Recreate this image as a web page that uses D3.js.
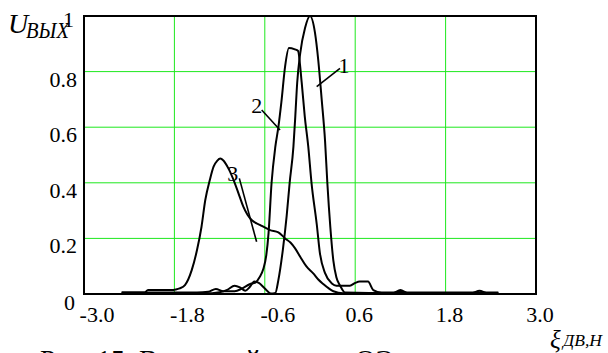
<!DOCTYPE html>
<html><head><meta charset="utf-8">
<script src="https://cdn.jsdelivr.net/npm/d3@7"></script>
<style>body{margin:0;background:#fff}svg{display:block}text{font-family:"Liberation Serif","Times New Roman",serif;fill:#000}</style>
</head><body><svg id="c" width="608" height="353"></svg>
<script>
const xTicks = [-3.0, -1.8, -0.6, 0.6, 1.8, 3.0];
const xTickLabels = ["-3.0", "-1.8", "-0.6", "0.6", "1.8", "3.0"];
const yGrid = [0.2, 0.4, 0.6, 0.8];
const yTickLabels = ["0.2", "0.4", "0.6", "0.8"];
const curve1 = [[-2.5,0.003],[-1.3,0.003],[-1.2,0.006],[-1.1,0.015],[-1.0,0.03],[-0.92,0.022],[-0.86,0.012],[-0.8,0.025],[-0.74,0.045],[-0.68,0.04],[-0.6,0.02],[-0.52,0.002],[-0.46,0.004],[-0.42,0.05],[-0.36,0.16],[-0.31,0.28],[-0.27,0.40],[-0.22,0.53],[-0.195,0.64],[-0.17,0.76],[-0.13,0.866],[-0.066,0.957],[0.0,1.0],[0.066,0.94],[0.11,0.84],[0.155,0.70],[0.2,0.55],[0.23,0.40],[0.27,0.24],[0.31,0.12],[0.35,0.06],[0.4,0.03],[0.465,0.005],[1.1,0.003],[1.2,0.014],[1.3,0.003],[2.15,0.003],[2.25,0.012],[2.35,0.003],[2.5,0.003]];
const curve2 = [[-2.5,0.005],[-1.5,0.005],[-1.35,0.008],[-1.25,0.018],[-1.15,0.01],[-1.0,0.01],[-0.9,0.02],[-0.8,0.035],[-0.72,0.042],[-0.67,0.06],[-0.62,0.09],[-0.58,0.14],[-0.55,0.22],[-0.51,0.40],[-0.46,0.53],[-0.42,0.60],[-0.38,0.69],[-0.33,0.82],[-0.28,0.885],[-0.2,0.88],[-0.16,0.875],[-0.11,0.76],[-0.07,0.64],[-0.023,0.53],[0.02,0.40],[0.09,0.25],[0.13,0.15],[0.2,0.075],[0.29,0.038],[0.35,0.03],[0.53,0.03],[0.6,0.04],[0.66,0.045],[0.77,0.045],[0.84,0.014],[0.95,0.005],[2.5,0.005]];
const curve3 = [[-2.5,0.005],[-2.2,0.005],[-2.15,0.014],[-1.85,0.014],[-1.78,0.016],[-1.73,0.02],[-1.66,0.032],[-1.57,0.086],[-1.50,0.158],[-1.44,0.242],[-1.39,0.338],[-1.33,0.41],[-1.28,0.458],[-1.23,0.48],[-1.19,0.487],[-1.15,0.48],[-1.08,0.45],[-1.0,0.40],[-0.94,0.355],[-0.885,0.314],[-0.83,0.285],[-0.775,0.266],[-0.66,0.248],[-0.53,0.23],[-0.42,0.222],[-0.33,0.2],[-0.26,0.185],[-0.2,0.165],[-0.13,0.134],[-0.05,0.10],[0.043,0.074],[0.11,0.052],[0.176,0.036],[0.25,0.02],[0.31,0.01],[0.44,0.003],[1.1,0.003],[1.2,0.008],[1.3,0.003],[2.5,0.003]];
const curveLabels = ["1", "2", "3"];
const labelPos = [[0.451,0.795],[-0.707,0.651],[-1.025,0.408]];
const leaders = [[[0.398,0.812],[0.089,0.746]],[[-0.641,0.662],[-0.398,0.59]],[[-0.938,0.416],[-0.709,0.188]]];

const svg = d3.select("#c");
const L = 84, R = 536, T = 16, B = 294;
const x = d3.scaleLinear().domain([-3, 3]).range([L, R]);
const y = d3.scaleLinear().domain([0, 1]).range([B, T]);
const grid = "#1ee81e";

// grid
svg.append("g").selectAll("line").data(xTicks.slice(1, -1)).join("line")
  .attr("x1", d => x(d)).attr("x2", d => x(d)).attr("y1", T).attr("y2", B)
  .attr("stroke", grid).attr("stroke-width", 1);
svg.append("g").selectAll("line").data(yGrid).join("line")
  .attr("y1", d => y(d)).attr("y2", d => y(d)).attr("x1", L).attr("x2", R)
  .attr("stroke", grid).attr("stroke-width", 1);

// curves
const line = d3.line().x(d => x(d[0])).y(d => y(d[1])).curve(d3.curveMonotoneX);
[curve1, curve2, curve3].forEach(c => {
  svg.append("path").attr("d", line(c)).attr("fill", "none")
    .attr("stroke", "#000").attr("stroke-width", 2).attr("stroke-linejoin", "round");
});

// frame
svg.append("rect").attr("x", L).attr("y", T).attr("width", R - L).attr("height", B - T)
  .attr("fill", "none").attr("stroke", "#000").attr("stroke-width", 2);

// leaders and curve labels
leaders.forEach(l => {
  svg.append("line").attr("x1", x(l[0][0])).attr("y1", y(l[0][1]))
    .attr("x2", x(l[1][0])).attr("y2", y(l[1][1])).attr("stroke", "#000").attr("stroke-width", 1.6);
});
curveLabels.forEach((t, i) => {
  svg.append("text").attr("x", x(labelPos[i][0])).attr("y", y(labelPos[i][1]))
    .attr("text-anchor", "middle").attr("font-size", 22).text(t);
});

// y tick labels
yGrid.forEach((v, i) => {
  svg.append("text").attr("x", 77).attr("y", y(v) + 15).attr("text-anchor", "end")
    .attr("font-size", 22).text(yTickLabels[i]);
});
svg.append("text").attr("x", 74).attr("y", y(1) + 11).attr("text-anchor", "end").attr("font-size", 22).text("1");
svg.append("text").attr("x", 75).attr("y", y(0) + 16).attr("text-anchor", "end").attr("font-size", 22).text("0");

// x tick labels
xTicks.forEach((v, i) => {
  svg.append("text").attr("x", x(v) + (v < 0 ? 13 : 4)).attr("y", B + 28)
    .attr("text-anchor", "middle").attr("font-size", 22).text(xTickLabels[i]);
});

// axis titles
svg.append("text").attr("x", 8).attr("y", 33).attr("font-style", "italic").attr("font-size", 28).text("U");
svg.append("text").attr("x", 26).attr("y", 38).attr("font-style", "italic").attr("font-size", 23)
  .attr("textLength", 43).attr("lengthAdjust", "spacingAndGlyphs").text("ВЫХ");
svg.append("text").attr("x", 550).attr("y", 348).attr("font-style", "italic").attr("font-size", 25).text("ξ");
svg.append("text").attr("x", 563).attr("y", 346).attr("font-style", "italic").attr("font-size", 17)
  .attr("textLength", 39).attr("lengthAdjust", "spacingAndGlyphs").text("ДВ,Н");

// caption (cut off at the bottom)
svg.append("text").attr("x", 40).attr("y", 369).attr("font-size", 28).text("Рис. 15. Выходной сигнал ОЭ");
</script></body></html>
